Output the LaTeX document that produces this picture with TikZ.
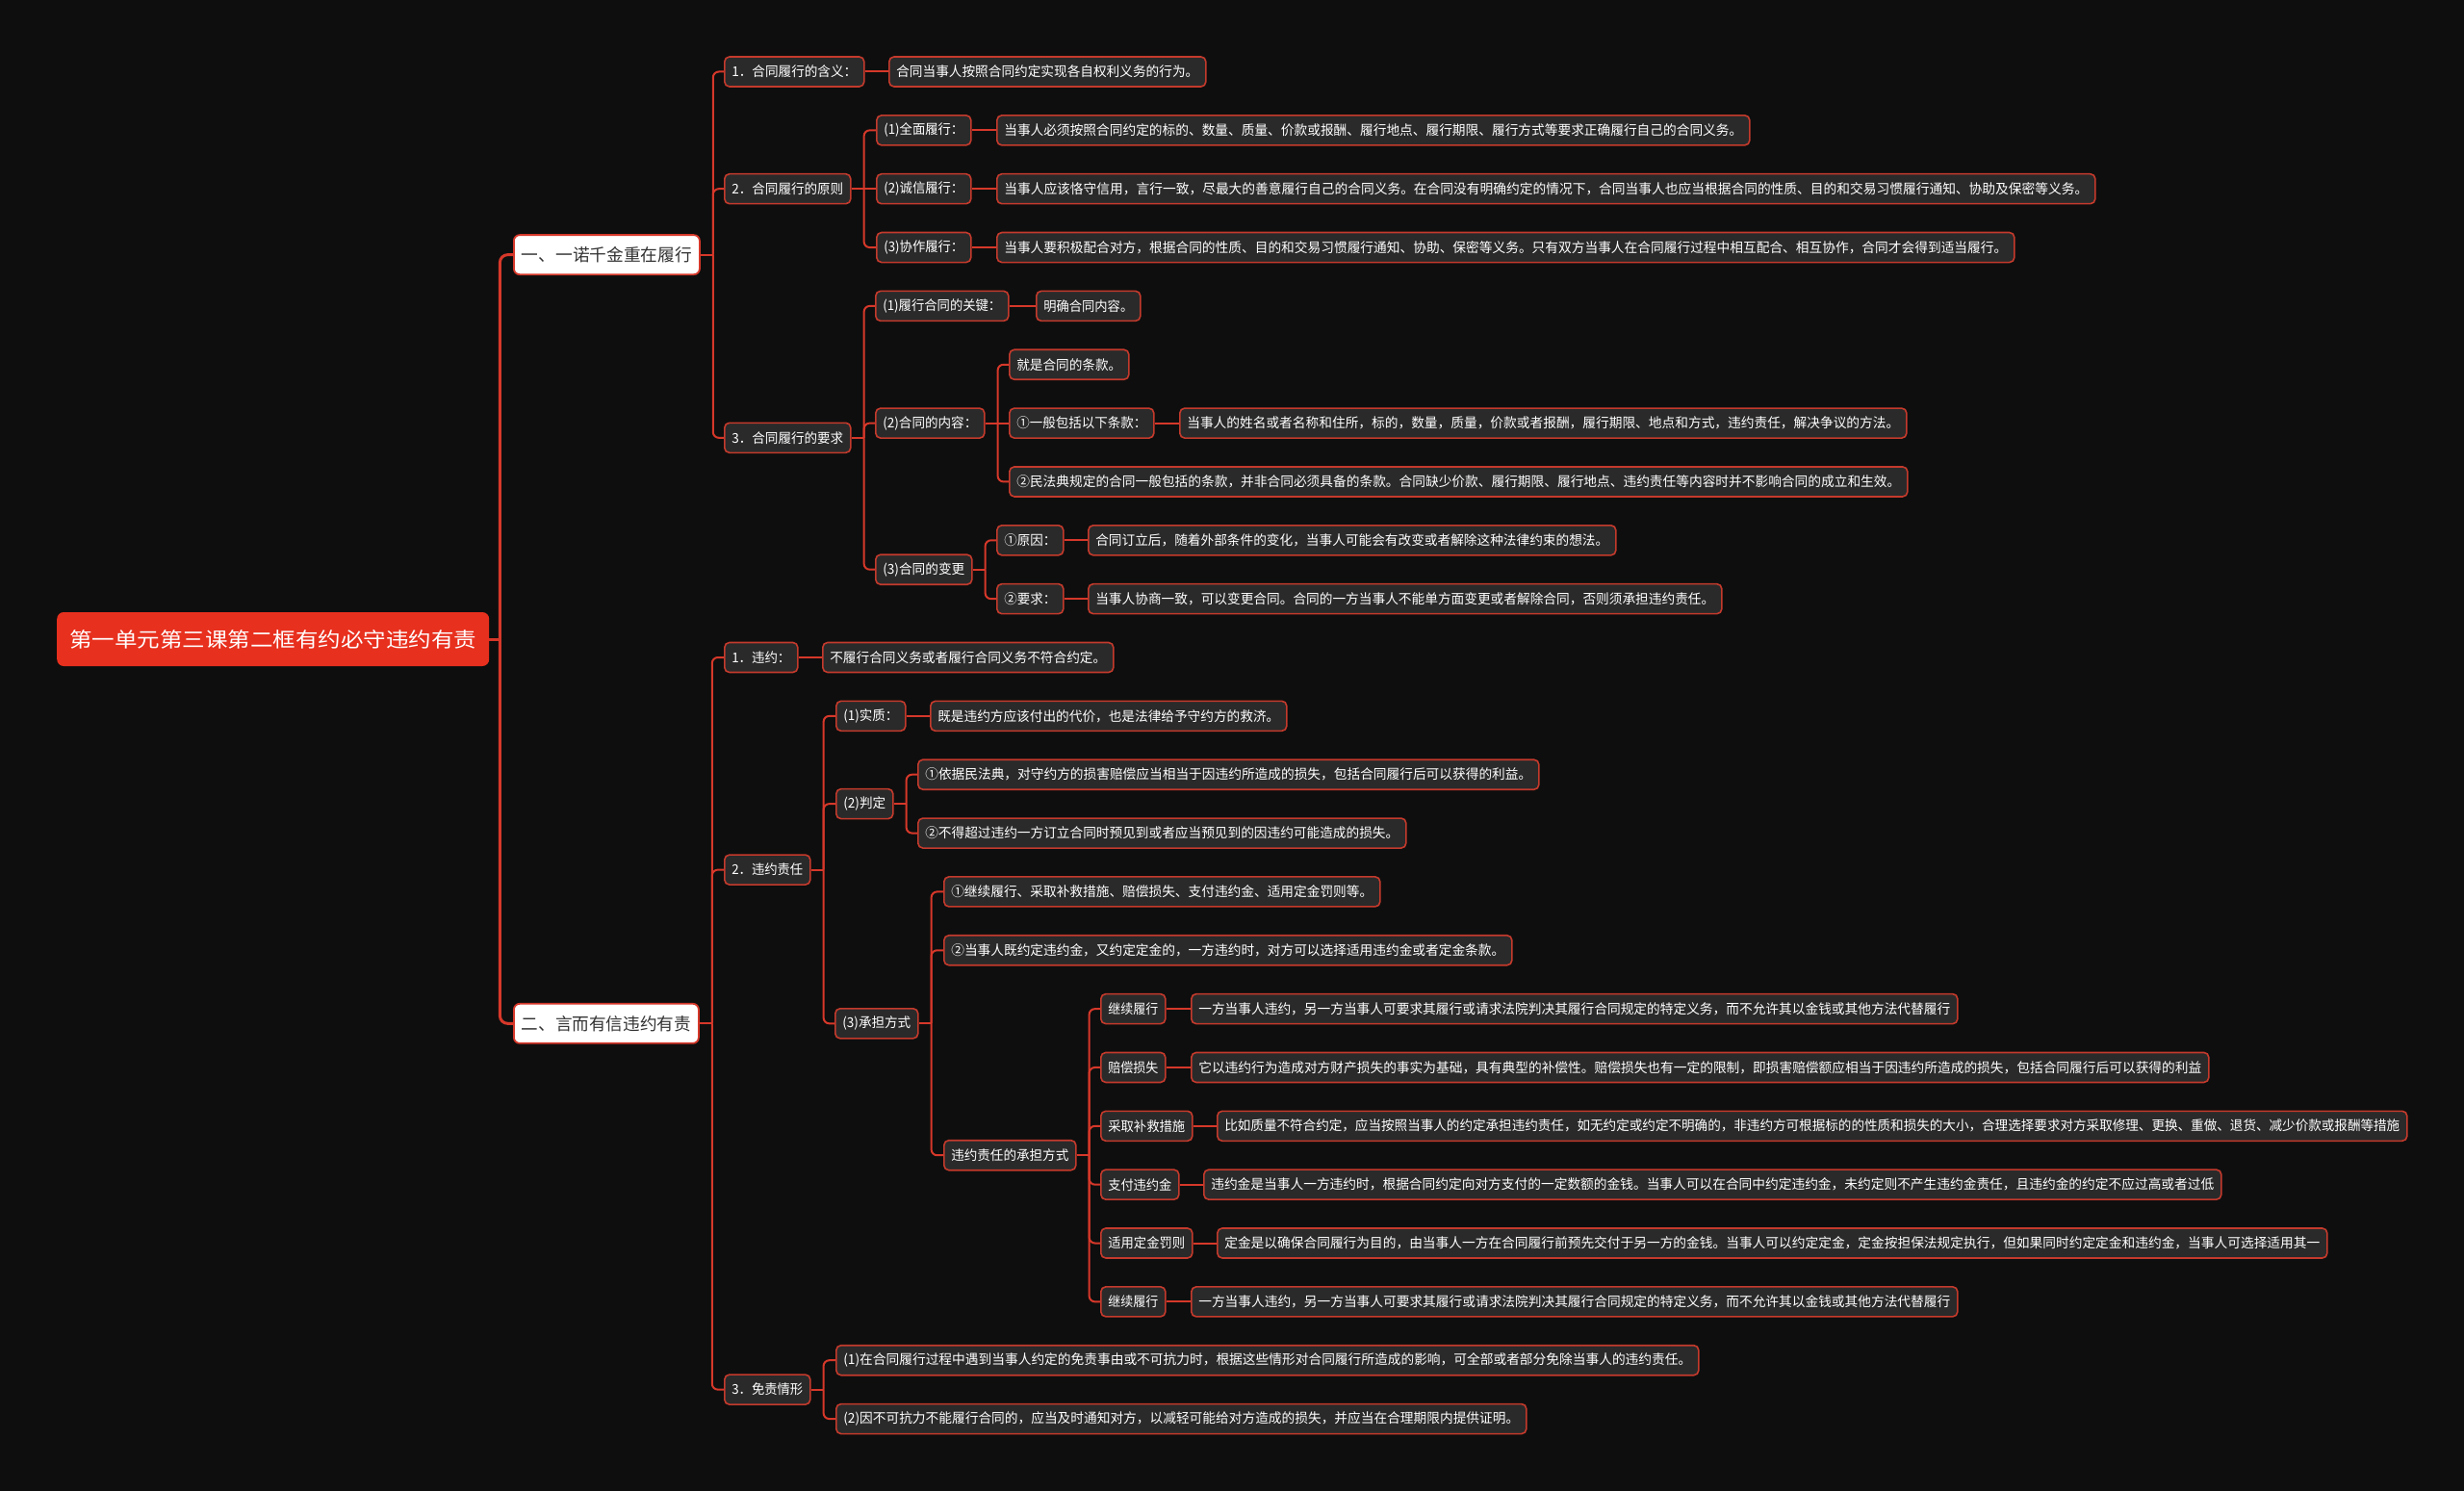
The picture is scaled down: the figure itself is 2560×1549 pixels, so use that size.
\documentclass[tikz,border=0pt]{standalone}
\usepackage{fontspec}
\setmainfont{Noto Sans CJK SC}
\usepackage{graphicx}
\usetikzlibrary{calc}
\definecolor{bgc}{RGB}{14,14,14}
\definecolor{linec}{RGB}{214,56,42}
\definecolor{rootc}{RGB}{232,48,30}
\definecolor{boxc}{RGB}{42,42,42}
\definecolor{bordc}{RGB}{196,58,44}
\definecolor{lonetext}{RGB}{51,51,51}
\pgfdeclarelayer{background}
\pgfsetlayers{background,main}
\newsavebox\fitbox
\newlength\fitlen
\newcommand\fitx[2]{\sbox\fitbox{#2}\setlength\fitlen{\wd\fitbox}\pgfmathsetmacro\fitratio{(#1)/\fitlen}\scalebox{\fitratio}[1]{\usebox\fitbox}}
\newcommand\bx[7]{\node[#1,minimum width=#5pt] (#2) at (#3,#4) {\fitx{#5-#6}{#7}};}
\newcommand\cn[2]{\draw[conn] (#1.east) -- ++(13,0); \draw[conn] ($(#1.east)+(13,0)$) |- (#2.west);}
\newcommand\sn[2]{\draw[conn,sharp corners] (#1.east) -- (#2.west);}
\newcommand\rcn[2]{\draw[rconn] (#1.east) -- ++(11,0); \draw[rconn] ($(#1.east)+(11,0)$) |- (#2.west);}
\tikzset{
  base/.style={anchor=west, inner xsep=0pt, inner ysep=0pt, rounded corners=5pt, text=white, font=\fontsize{14}{16}\selectfont},
  leaf/.style={base, fill=boxc, draw=bordc, line width=1.6pt, minimum height=31pt},
  lone/.style={base, fill=white, draw=linec, line width=1.8pt, minimum height=41pt, text=lonetext, rounded corners=6pt, font=\fontsize{17.8}{20}\selectfont},
  rootn/.style={base, fill=rootc, minimum height=56pt, rounded corners=7pt, font=\fontsize{21.2}{24}\selectfont},
  conn/.style={draw=linec, line width=2pt, rounded corners=6pt},
  rconn/.style={draw=linec, line width=3pt, rounded corners=8pt},
}
\begin{document}
\begin{tikzpicture}[x=1pt,y=-1pt]
\useasboundingbox (0,0) rectangle (2560,1549);
\begin{pgfonlayer}{background}
\fill[bgc] (0,0) rectangle (2560,1549);
\end{pgfonlayer}
% root and level 1
\bx{rootn}{root}{59}{664}{449}{26}{第一单元第三课第二框有约必守违约有责}
\bx{lone}{A}{533}{264.65}{193}{16}{一、一诺千金重在履行}
\bx{lone}{B}{533}{1063.3}{192}{16}{二、言而有信违约有责}
% section A
\bx{leaf}{A1}{752}{74.5}{145}{15}{1．合同履行的含义：}
\bx{leaf}{A1a}{923}{74.5}{329}{15}{合同当事人按照合同约定实现各自权利义务的行为。}
\bx{leaf}{A2}{752}{196.2}{131}{15}{2．合同履行的原则}
\bx{leaf}{A2a}{910}{135.35}{98}{15}{(1)全面履行：}
\bx{leaf}{A2a1}{1035}{135.35}{782}{15}{当事人必须按照合同约定的标的、数量、质量、价款或报酬、履行地点、履行期限、履行方式等要求正确履行自己的合同义务。}
\bx{leaf}{A2b}{910}{196.2}{98}{15}{(2)诚信履行：}
\bx{leaf}{A2b1}{1035}{196.2}{1141}{15}{当事人应该恪守信用，言行一致，尽最大的善意履行自己的合同义务。在合同没有明确约定的情况下，合同当事人也应当根据合同的性质、目的和交易习惯履行通知、协助及保密等义务。}
\bx{leaf}{A2c}{910}{257.05}{98}{15}{(3)协作履行：}
\bx{leaf}{A2c1}{1035}{257.05}{1057}{15}{当事人要积极配合对方，根据合同的性质、目的和交易习惯履行通知、协助、保密等义务。只有双方当事人在合同履行过程中相互配合、相互协作，合同才会得到适当履行。}
\bx{leaf}{A3}{752}{454.8}{131}{15}{3．合同履行的要求}
\bx{leaf}{A3a}{909}{317.9}{138}{15}{(1)履行合同的关键：}
\bx{leaf}{A3a1}{1076}{317.9}{108}{15}{明确合同内容。}
\bx{leaf}{A3b}{909}{439.6}{113}{15}{(2)合同的内容：}
\bx{leaf}{A3b1}{1048}{378.75}{124}{15}{就是合同的条款。}
\bx{leaf}{A3b2}{1048}{439.6}{150}{15}{①一般包括以下条款：}
\bx{leaf}{A3b2a}{1225}{439.6}{755}{15}{当事人的姓名或者名称和住所，标的，数量，质量，价款或者报酬，履行期限、地点和方式，违约责任，解决争议的方法。}
\bx{leaf}{A3b3}{1048}{500.45}{933}{15}{②民法典规定的合同一般包括的条款，并非合同必须具备的条款。合同缺少价款、履行期限、履行地点、违约责任等内容时并不影响合同的成立和生效。}
\bx{leaf}{A3c}{909}{591.7}{100}{15}{(3)合同的变更}
\bx{leaf}{A3c1}{1035}{561.3}{69}{15}{①原因：}
\bx{leaf}{A3c1a}{1130}{561.3}{548}{15}{合同订立后，随着外部条件的变化，当事人可能会有改变或者解除这种法律约束的想法。}
\bx{leaf}{A3c2}{1035}{622.15}{69}{15}{②要求：}
\bx{leaf}{A3c2a}{1130}{622.15}{658}{15}{当事人协商一致，可以变更合同。合同的一方当事人不能单方面变更或者解除合同，否则须承担违约责任。}
% section B
\bx{leaf}{B1}{752}{683.0}{76}{15}{1．违约：}
\bx{leaf}{B1a}{854}{683.0}{302}{15}{不履行合同义务或者履行合同义务不符合约定。}
\bx{leaf}{B2}{752}{903.6}{89}{15}{2．违约责任}
\bx{leaf}{B2a}{868}{743.85}{72}{15}{(1)实质：}
\bx{leaf}{B2a1}{966}{743.85}{370}{15}{既是违约方应该付出的代价，也是法律给予守约方的救济。}
\bx{leaf}{B2b}{868}{835.1}{59}{15}{(2)判定}
\bx{leaf}{B2b1}{953}{804.7}{645}{15}{①依据民法典，对守约方的损害赔偿应当相当于因违约所造成的损失，包括合同履行后可以获得的利益。}
\bx{leaf}{B2b2}{953}{865.55}{507}{15}{②不得超过违约一方订立合同时预见到或者应当预见到的因违约可能造成的损失。}
\bx{leaf}{B2c}{867}{1063.3}{86}{15}{(3)承担方式}
\bx{leaf}{B2c1}{980}{926.4}{453}{15}{①继续履行、采取补救措施、赔偿损失、支付违约金、适用定金罚则等。}
\bx{leaf}{B2c2}{980}{987.25}{590}{15}{②当事人既约定违约金，又约定定金的，一方违约时，对方可以选择适用违约金或者定金条款。}
\bx{leaf}{B2c3}{980}{1200.2}{137}{15}{违约责任的承担方式}
\bx{leaf}{K1}{1143}{1048.1}{67}{15}{继续履行}
\bx{leaf}{K1a}{1237}{1048.1}{796}{15}{一方当事人违约，另一方当事人可要求其履行或请求法院判决其履行合同规定的特定义务，而不允许其以金钱或其他方法代替履行}
\bx{leaf}{K2}{1143}{1108.95}{67}{15}{赔偿损失}
\bx{leaf}{K2a}{1237}{1108.95}{1057}{15}{它以违约行为造成对方财产损失的事实为基础，具有典型的补偿性。赔偿损失也有一定的限制，即损害赔偿额应相当于因违约所造成的损失，包括合同履行后可以获得的利益}
\bx{leaf}{K3}{1143}{1169.8}{95}{15}{采取补救措施}
\bx{leaf}{K3a}{1264}{1169.8}{1236}{15}{比如质量不符合约定，应当按照当事人的约定承担违约责任，如无约定或约定不明确的，非违约方可根据标的的性质和损失的大小，合理选择要求对方采取修理、更换、重做、退货、减少价款或报酬等措施}
\bx{leaf}{K4}{1143}{1230.65}{81}{15}{支付违约金}
\bx{leaf}{K4a}{1250}{1230.65}{1057}{15}{违约金是当事人一方违约时，根据合同约定向对方支付的一定数额的金钱。当事人可以在合同中约定违约金，未约定则不产生违约金责任，且违约金的约定不应过高或者过低}
\bx{leaf}{K5}{1143}{1291.5}{95}{15}{适用定金罚则}
\bx{leaf}{K5a}{1264}{1291.5}{1153}{15}{定金是以确保合同履行为目的，由当事人一方在合同履行前预先交付于另一方的金钱。当事人可以约定定金，定金按担保法规定执行，但如果同时约定定金和违约金，当事人可选择适用其一}
\bx{leaf}{K6}{1143}{1352.35}{67}{15}{继续履行}
\bx{leaf}{K6a}{1237}{1352.35}{796}{15}{一方当事人违约，另一方当事人可要求其履行或请求法院判决其履行合同规定的特定义务，而不允许其以金钱或其他方法代替履行}
\bx{leaf}{B3}{752}{1443.6}{89}{15}{3．免责情形}
\bx{leaf}{B3a}{868}{1413.2}{896}{15}{(1)在合同履行过程中遇到当事人约定的免责事由或不可抗力时，根据这些情形对合同履行所造成的影响，可全部或者部分免除当事人的违约责任。}
\bx{leaf}{B3b}{868}{1474.05}{717}{15}{(2)因不可抗力不能履行合同的，应当及时通知对方，以减轻可能给对方造成的损失，并应当在合理期限内提供证明。}
% connectors
\begin{pgfonlayer}{background}
\rcn{root}{A}\rcn{root}{B}
\cn{A}{A1}\cn{A}{A2}\cn{A}{A3}
\sn{A1}{A1a}
\cn{A2}{A2a}\sn{A2}{A2b}\cn{A2}{A2c}
\sn{A2a}{A2a1}\sn{A2b}{A2b1}\sn{A2c}{A2c1}
\cn{A3}{A3a}\cn{A3}{A3b}\cn{A3}{A3c}
\sn{A3a}{A3a1}
\cn{A3b}{A3b1}\sn{A3b}{A3b2}\cn{A3b}{A3b3}
\sn{A3b2}{A3b2a}
\cn{A3c}{A3c1}\cn{A3c}{A3c2}
\sn{A3c1}{A3c1a}\sn{A3c2}{A3c2a}
\cn{B}{B1}\cn{B}{B2}\cn{B}{B3}
\sn{B1}{B1a}
\cn{B2}{B2a}\cn{B2}{B2b}\cn{B2}{B2c}
\sn{B2a}{B2a1}
\cn{B2b}{B2b1}\cn{B2b}{B2b2}
\cn{B2c}{B2c1}\cn{B2c}{B2c2}\cn{B2c}{B2c3}
\cn{B2c3}{K1}\cn{B2c3}{K2}\cn{B2c3}{K3}\cn{B2c3}{K4}\cn{B2c3}{K5}\cn{B2c3}{K6}
\sn{K1}{K1a}\sn{K2}{K2a}\sn{K3}{K3a}\sn{K4}{K4a}\sn{K5}{K5a}\sn{K6}{K6a}
\cn{B3}{B3a}\cn{B3}{B3b}
\end{pgfonlayer}
\end{tikzpicture}
\end{document}
